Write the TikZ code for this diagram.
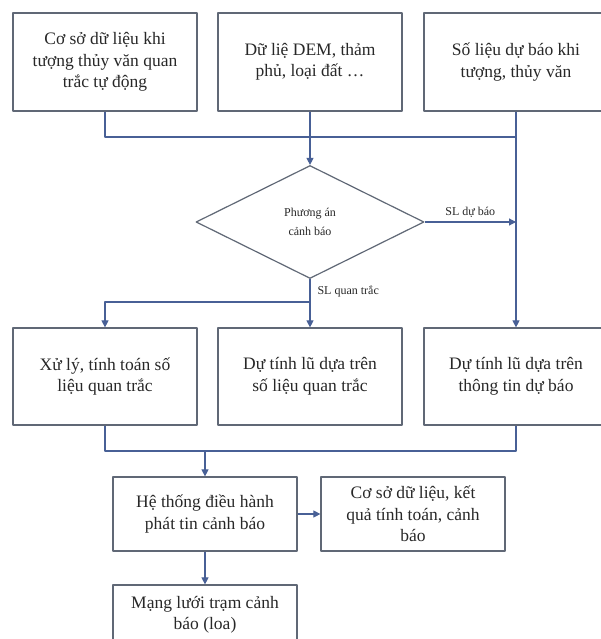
\documentclass[tikz,border=0pt]{standalone}
\usepackage{fontspec}
\setmainfont{Liberation Serif}
\usetikzlibrary{shapes.geometric,arrows.meta}
\definecolor{lineblue}{RGB}{72,96,150}
\definecolor{boxgray}{RGB}{96,104,118}
\definecolor{txtgray}{RGB}{40,40,40}
\begin{document}
\begin{tikzpicture}[x=1pt,y=-1pt,line join=round,>={Triangle[length=7pt,width=7pt]},
	box/.style={draw=boxgray,line width=1.2pt,fill=white,minimum width=184pt,inner sep=0pt,align=center,text=txtgray,font=\fontsize{17.5}{21.5}\selectfont},
	conn/.style={draw=lineblue,line width=1.1pt},
	lab/.style={text=txtgray,inner sep=1pt,font=\fontsize{12}{14}\selectfont}]
\def \bh{98}\def \mh{97}\def \sh{74}
\useasboundingbox (0,0) rectangle (600,639);
\fill[white] (0,0) rectangle (600,639);
% hang tren
\node[box,minimum height=\bh] (csqt) at (105,62) {Cơ sở dữ liệu khi\\tượng thủy văn quan\\trắc tự động};
\node[box,minimum height=\bh] (dem) at (310,62) {Dữ liệ DEM, thảm\\phủ, loại đất …};
\node[box,minimum height=\bh] (sldb) at (516,62) {Số liệu dự báo khi\\tượng, thủy văn};
% phuong an
\node[diamond,draw=boxgray,line width=1.2pt,minimum width=228pt,minimum height=113pt,inner sep=0pt,align=center,text=txtgray,font=\fontsize{12}{19}\selectfont] (pa) at (310,222) {Phương án\\cảnh báo};
% hang giua
\node[box,minimum height=\mh] (xl) at (105,376.5) {Xử lý, tính toán số\\liệu quan trắc};
\node[box,minimum height=\mh] (dtqt) at (310,376.5) {Dự tính lũ dựa trên\\số liệu quan trắc};
\node[box,minimum height=\mh] (dtdb) at (516,376.5) {Dự tính lũ dựa trên\\thông tin dự báo};
% hang duoi
\node[box,minimum height=\sh] (ht) at (205,514) {Hệ thống điều hành\\phát tin cảnh báo};
\node[box,minimum height=\sh] (kq) at (413,514) {Cơ sở dữ liệu, kết\\quả tính toán, cảnh\\báo};
\node[box,minimum height=60] (ml) at (205,615) {Mạng lưới trạm cảnh\\báo (loa)};
\coordinate (g1) at (310,137);
\coordinate (g2) at (310,302);
\coordinate (g3) at (205,451);
\draw[conn] (csqt.south) |- (sldb.south |- g1);
\draw[conn,->] (dem.south) -- (pa.north);
\draw[conn,->] (sldb.south) -- (dtdb.north);
\draw[conn,->] (pa.east) -- (pa.east -| dtdb.north) node[midway,above=3pt,lab] (ldb) {SL dự báo};
\draw[conn] (pa.south) -- (g2) node[pos=0.55,right=6pt,lab] (lqt) {SL quan trắc};
\draw[conn,->] (g2) -| (xl.north);
\draw[conn,->] (g2) -- (dtqt.north);
\draw[conn] (xl.south) |- (dtdb.south |- g3) -- (dtdb.south);
\draw[conn,->] (g3) -- (ht.north);
\draw[conn,->] (ht.east) -- (kq.west);
\draw[conn,->] (ht.south) -- (ml.north);
\end{tikzpicture}
\end{document}
